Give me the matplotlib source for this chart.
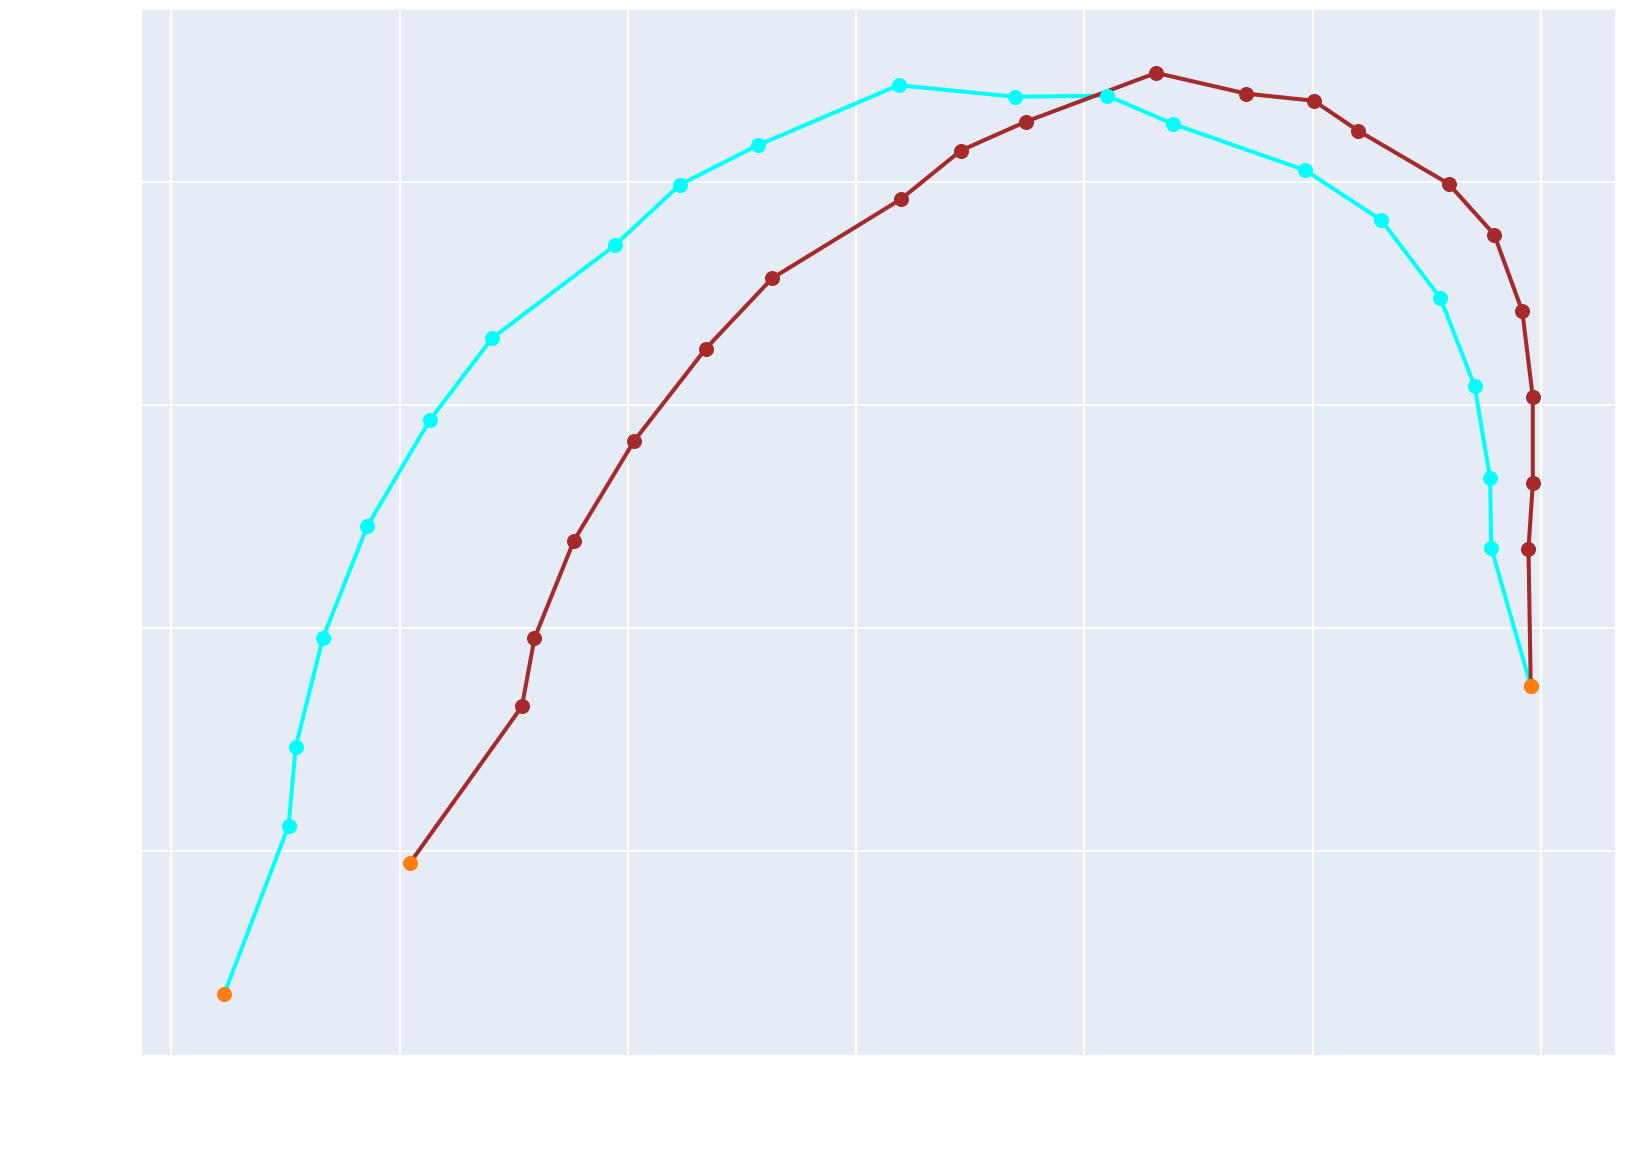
import matplotlib
matplotlib.use('Agg')
import matplotlib.pyplot as plt

# cyan trace
cyan_x = [0.232, 0.514, 0.545, 0.664, 0.859, 1.132, 1.405, 1.945, 2.227, 2.568, 3.186,
          3.695, 4.100, 4.386, 4.968, 5.300, 5.559, 5.709, 5.777, 5.782, 5.955]
cyan_y = [0.358, 1.112, 1.465, 1.953, 2.456, 2.930, 3.298, 3.716, 3.986, 4.163, 4.433,
          4.381, 4.386, 4.260, 4.051, 3.828, 3.479, 3.084, 2.670, 2.358, 1.740]

# brown trace
brown_x = [1.045, 1.536, 1.591, 1.764, 2.027, 2.341, 2.632, 3.195, 3.459, 3.745, 4.314,
           4.709, 5.005, 5.200, 5.595, 5.795, 5.918, 5.964, 5.964, 5.945, 5.955]
brown_y = [0.944, 1.647, 1.953, 2.391, 2.837, 3.251, 3.567, 3.921, 4.140, 4.270, 4.488,
           4.395, 4.363, 4.228, 3.991, 3.763, 3.419, 3.033, 2.647, 2.353, 1.740]

xticks = [0, 1, 2, 3, 4, 5, 6]
yticks = [1, 2, 3, 4]

fig = plt.figure(figsize=(16.27, 11.62), dpi=100)
ax = fig.add_axes([0.0873, 0.0921, 0.9056, 0.8989])
ax.set_facecolor('#E5ECF6')

for xs, ys, col in [(cyan_x, cyan_y, '#00FFFF'), (brown_x, brown_y, '#A52A2A')]:
    ax.plot(xs, ys, '-', color=col, lw=2.9, zorder=3)
    ax.plot(xs[1:-1], ys[1:-1], 'o', color=col, ms=9.8, zorder=4)
    ax.plot([xs[0], xs[-1]], [ys[0], ys[-1]], 'o', color='#FF7F0E', ms=9.8, zorder=5)

ax.set_xlim(-0.128, 6.326)
ax.set_ylim(0.084, 4.768)
ax.set_xticks(xticks)
ax.set_yticks(yticks)
ax.set_xticklabels([])
ax.set_yticklabels([])
ax.tick_params(length=0)
ax.grid(True, color='white', lw=1.5, zorder=0)
ax.set_axisbelow(True)
for s in ax.spines.values():
    s.set_visible(False)

plt.savefig('out.png', dpi=100)
plt.close(fig)
